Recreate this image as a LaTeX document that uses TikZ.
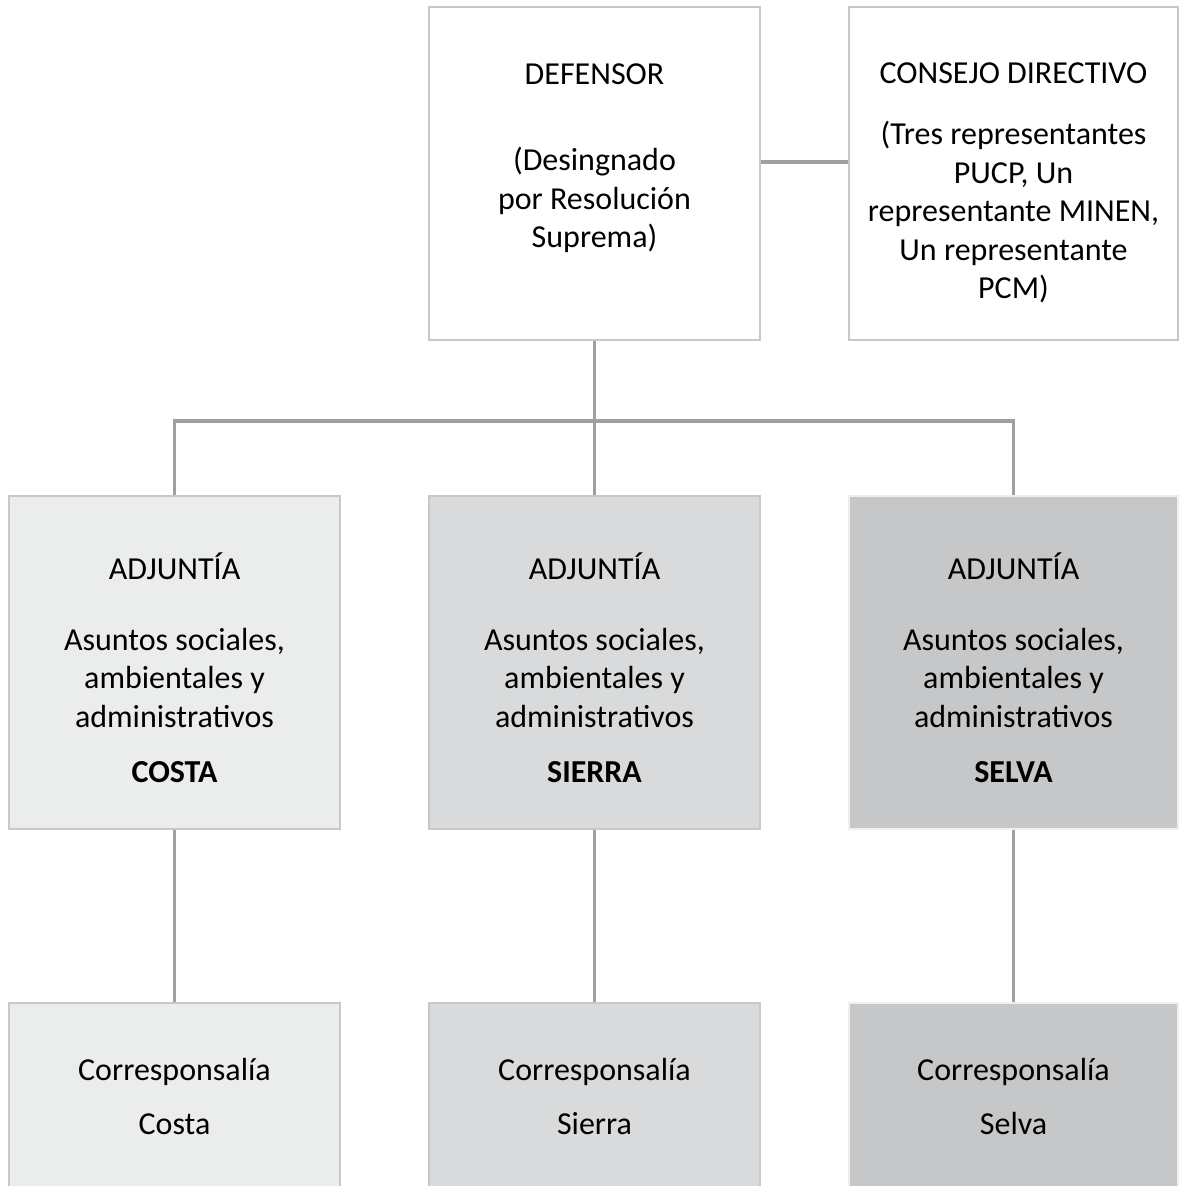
\documentclass[tikz,border=0pt]{standalone}
\usepackage{fontspec}
\setmainfont{Carlito}
\usetikzlibrary{positioning}

\definecolor{lineg}{HTML}{A0A0A0}
\definecolor{edgeg}{HTML}{C8C8C8}
\definecolor{costafill}{HTML}{EBECEC}
\definecolor{sierrafill}{HTML}{D9DADB}
\definecolor{selvafill}{HTML}{C6C7C8}
\definecolor{selvaedge}{HTML}{EEEEEE}

\begin{document}
\begin{tikzpicture}[
    x=0.5pt, y=-0.5pt,
    font=\fontsize{16}{19.25}\selectfont,
    box/.style={rectangle, draw=edgeg, line width=1.25pt, fill=white,
                minimum width=165.5pt, minimum height=166.5pt, inner sep=0pt},
    costa/.style={box, fill=costafill},
    sierra/.style={box, fill=sierrafill},
    selva/.style={box, fill=selvafill, draw=selvaedge},
    txt/.style={align=center, anchor=base, inner sep=0pt},
    conn/.style={draw=lineg, line width=1.6pt},
  ]

  % --- marco ---
  \clip (0,0) rectangle (1179,1186);

  % --- nivel superior ---
  \node[box] (def) at (594.5,173.5) {};
  \node[box, minimum width=164.5pt] (cons) at (1013.5,173.5) {};

  % --- adjuntias ---
  \node[costa] (adjc) at (174.5,662.5) {};
  \node[sierra] (adjs) at (594.5,662.5) {};
  \node[selva, minimum width=164.5pt] (adjv) at (1013.5,662.5) {};

  % --- corresponsalias ---
  \node[costa] (corc) at (174.5,1169.5) {};
  \node[sierra] (cors) at (594.5,1169.5) {};
  \node[selva, minimum width=164.5pt] (corv) at (1013.5,1169.5) {};

  % --- textos (base = ultima linea) ---
  \node[txt] (tdef) at (594.5,248) {DEFENSOR\\[24pt](Desingnado\\por Resolución\\Suprema)};
  \node[txt] (tcons) at (1013.5,299) {CONSEJO DIRECTIVO\\[11.5pt](Tres representantes\\PUCP, Un\\representante MINEN,\\Un representante\\PCM)};

  \node[txt] (tadjc) at (174.5,782) {ADJUNTÍA\\[16.25pt]Asuntos sociales,\\ambientales y\\administrativos\\[8.25pt]\textbf{COSTA}};
  \node[txt] (tadjs) at (594.5,782) {ADJUNTÍA\\[16.25pt]Asuntos sociales,\\ambientales y\\administrativos\\[8.25pt]\textbf{SIERRA}};
  \node[txt] (tadjv) at (1013.5,782) {ADJUNTÍA\\[16.25pt]Asuntos sociales,\\ambientales y\\administrativos\\[8.25pt]\textbf{SELVA}};

  \node[txt] (tcorc) at (174.5,1134) {Corresponsalía\\[7.75pt]Costa};
  \node[txt] (tcors) at (594.5,1134) {Corresponsalía\\[7.75pt]Sierra};
  \node[txt] (tcorv) at (1013.5,1134) {Corresponsalía\\[7.75pt]Selva};

  % --- conexiones ---
  \coordinate (bus) at (594.5,421);
  \draw[conn] ([yshift=5.75pt]def.east) -- ([yshift=5.75pt]cons.west);
  \draw[conn] (def.south) -- (adjs.north);
  \draw[conn] (adjc.north) |- (bus) -| (adjv.north);
  \draw[conn] (adjc.south) -- (corc.north);
  \draw[conn] (adjs.south) -- (cors.north);
  \draw[conn] (adjv.south) -- (corv.north);

\end{tikzpicture}
\end{document}
